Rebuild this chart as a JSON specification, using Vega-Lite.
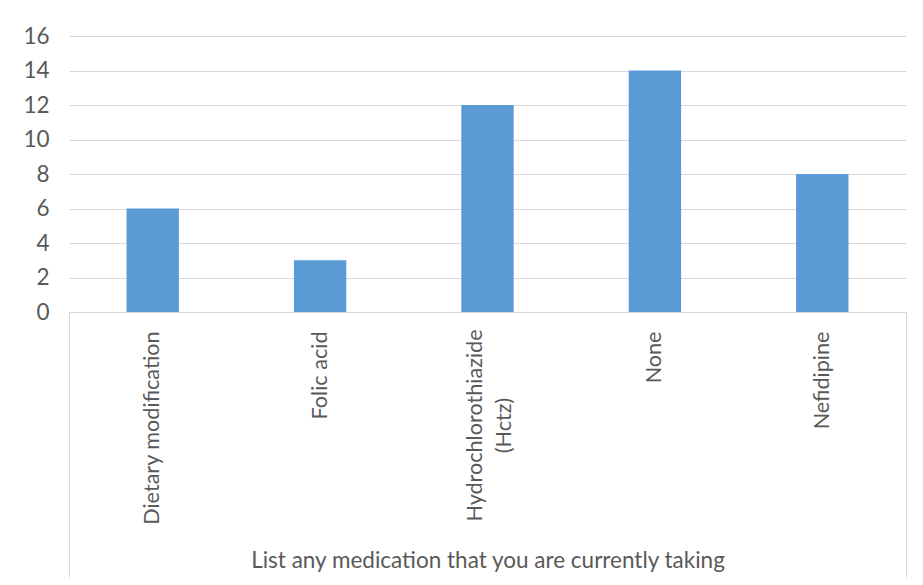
{
  "$schema": "https://vega.github.io/schema/vega-lite/v6.json",
  "autosize": {"type": "none"},
  "width": 837,
  "height": 276,
  "padding": {"left": 69, "top": 36, "right": 17, "bottom": 273},
  "background": "white",
  "data": {
    "values": [
      {"medication": "Dietary modification", "count": 6},
      {"medication": "Folic acid", "count": 3},
      {"medication": "Hydrochlorothiazide (Hctz)", "count": 12},
      {"medication": "None", "count": 14},
      {"medication": "Nefidipine", "count": 8}
    ]
  },
  "mark": {"type": "bar", "color": "#5B9BD5", "width": {"band": 0.313}},
  "encoding": {
    "x": {
      "field": "medication",
      "type": "nominal",
      "sort": null,
      "scale": {"paddingInner": 0, "paddingOuter": 0},
      "axis": {
        "title": "List any medication that you are currently taking",
        "titleFont": "Lato",
        "titleFontSize": 22.5,
        "titleFontWeight": "normal",
        "titleColor": "#595959",
        "titleBaseline": "middle",
        "titleY": 248,
        "labelAngle": -90,
        "labelFont": "Lato",
        "labelFontSize": 21.6,
        "labelColor": "#595959",
        "labelLineHeight": 29,
        "labelLimit": 260,
        "labelAlign": {"condition": {"test": "datum.value == 'Hydrochlorothiazide (Hctz)'", "value": "center"}, "value": "right"},
        "labelPadding": {"condition": {"test": "datum.value == 'Hydrochlorothiazide (Hctz)'", "value": -152}, "value": -246},
        "labelOffset": {"condition": {"test": "datum.value == 'Hydrochlorothiazide (Hctz)'", "value": -12}, "value": 0},
        "labelExpr": "datum.label == 'Hydrochlorothiazide (Hctz)' ? ['Hydrochlorothiazide', '(Hctz)'] : datum.label",
        "domainColor": "#D9D9D9",
        "domainWidth": 1,
        "tickBand": "extent",
        "tickSize": 265,
        "tickColor": "#D9D9D9",
        "tickOpacity": {"condition": {"test": "datum.index == -1 || datum.index == 1", "value": 1}, "value": 0},
        "grid": false
      }
    },
    "y": {
      "field": "count",
      "type": "quantitative",
      "scale": {"domain": [0, 16]},
      "axis": {
        "title": null,
        "values": [0, 2, 4, 6, 8, 10, 12, 14, 16],
        "domain": false,
        "ticks": false,
        "labelFont": "Lato",
        "labelFontSize": 22.5,
        "labelColor": "#595959",
        "labelPadding": 20,
        "gridColor": "#D9D9D9",
        "gridWidth": 1
      }
    }
  },
  "config": {"view": {"stroke": null}}
}
